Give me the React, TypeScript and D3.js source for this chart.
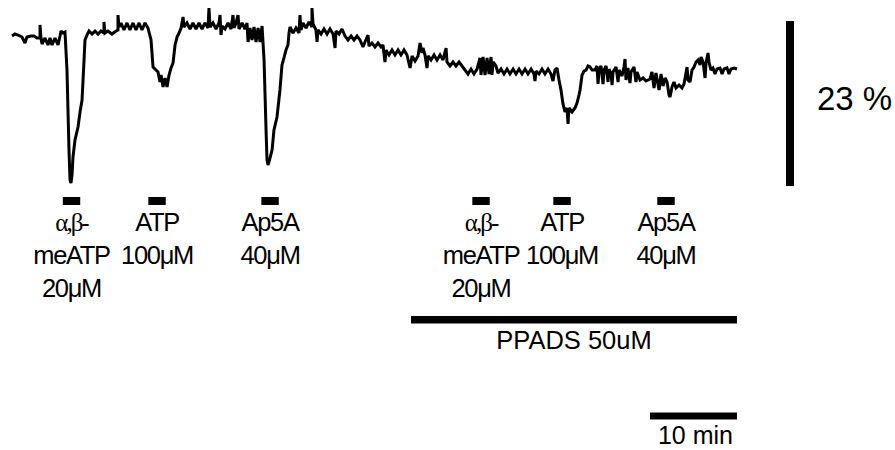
import React from "react";
import * as d3 from "d3";

// Recorded trace: time (min) and response (% change)
const traceMin = [
  0, 0.34, 0.69, 1.15, 1.49, 1.72, 2.18, 2.53, 2.87, 3.22, 3.22, 3.33, 3.45, 3.79, 4.14, 4.37, 4.6, 4.94, 5.29, 5.52, 5.63, 5.86, 6.09,
  6.32, 6.55, 6.67, 6.78, 6.9, 7.01, 7.24, 7.59, 7.82, 8.05, 8.28, 8.39, 8.62, 8.85, 9.2, 9.54, 9.89, 10.23, 10.57, 10.57, 10.69,
  11.03, 11.49, 11.95, 12.18, 12.18, 12.3, 12.53, 12.87, 13.22, 13.56, 13.91, 14.25, 14.6, 14.94, 15.29, 15.63,
  15.98, 16.21, 16.55, 16.78, 17.01, 17.13, 17.36, 17.59, 17.82, 18.05, 18.28, 18.51, 18.74, 18.97, 19.2, 19.43, 19.66, 19.77,
  20.11, 20.46, 20.8, 21.15, 21.49, 21.84, 22.18, 22.53, 22.64, 22.76, 23.1, 23.45, 23.79, 23.91, 24.02, 24.14, 24.48, 24.83,
  25.17, 25.4, 25.52, 25.75, 25.98, 26.09, 26.44, 26.78, 27.01, 27.13, 27.36, 27.59, 27.82, 28.05, 28.28, 28.51, 28.74,
  28.97, 29.2, 29.31, 29.43, 29.66, 29.89, 30.11, 30.46, 30.8, 31.03, 31.26, 31.49, 31.72, 31.84, 31.95, 32.3, 32.64, 32.99,
  33.1, 33.22, 33.45, 33.79, 34.14, 34.48, 34.48, 34.6, 34.94, 35.06, 35.17, 35.52, 35.86, 36.21, 36.55, 36.9, 37.13, 37.24,
  37.59, 37.93, 38.28, 38.62, 38.97, 39.31, 39.66, 40.0, 40.34, 40.57, 40.92, 41.03, 41.38, 41.72, 42.07, 42.41, 42.64, 42.87,
  42.99, 43.33, 43.68, 44.02, 44.37, 44.71, 45.06, 45.4, 45.75, 45.98, 46.32, 46.67, 46.9, 47.13, 47.24, 47.47, 47.7, 47.82,
  48.16, 48.51, 48.85, 49.2, 49.54, 49.89, 50.0, 50.34, 50.69, 51.03, 51.38, 51.72, 52.07, 52.41, 52.76, 53.1, 53.45, 53.79,
  53.91, 54.14, 54.37, 54.6, 54.83, 55.06, 55.17, 55.29, 55.63, 55.86, 56.21, 56.55, 56.9, 57.24, 57.59, 57.93, 58.28, 58.62,
  58.97, 59.31, 59.66, 60.0, 60.11, 60.23, 60.57, 60.92, 61.26, 61.61, 61.95, 62.18, 62.41, 62.64,
  62.87, 63.1, 63.33, 63.56, 63.79, 63.91, 64.02, 64.37, 64.71, 64.94, 65.17, 65.29, 65.52, 65.75, 65.98, 66.21, 66.44, 66.67,
  67.01, 67.24, 67.36, 67.47, 67.7, 67.93, 68.05, 68.28, 68.51, 68.62, 68.85, 68.97, 69.08, 69.43, 69.66, 69.77, 70.11, 70.34,
  70.46, 70.57, 70.8, 71.03, 71.15, 71.49, 71.72, 71.84, 72.18, 72.53, 72.87, 73.33, 73.56, 73.79, 74.02, 74.37, 74.6, 74.83,
  75.06, 75.29, 75.52, 75.63, 75.86, 76.09, 76.32, 76.67, 77.01, 77.24, 77.59, 77.7, 77.93, 78.16, 78.39, 78.62, 78.85, 79.08,
  79.2, 79.43, 79.66, 79.77, 80.0, 80.11, 80.34, 80.57, 80.8, 81.03, 81.38, 81.61, 81.84, 82.18, 82.41, 82.64, 82.99, 83.33,
];

const tracePct = [
  -0.84, -0.56, -0.7, -0.98, -1.81, -0.98, -0.84, -0.84, -1.12, -1.12, 0.7, -1.12, -1.95, -1.12, -2.09, -1.12, -2.09, -1.12, -2.09, -0.84, -0.14, -0.42, -0.28,
  -5.58, -16.73, -20.91, -21.33, -20.21, -17.7, -15.33, -13.52, -11.43, -9.76, -4.18, -1.39, -0.7, -0.14, -0.56, -0.14, -0.56, -0.14, -0.42, 1.12, -0.42,
  -0.14, -0.56, -0.14, 0, 2.09, 0.42, 0.98, 0, 0.98, 0, 0.98, 0, 0.98, 0, 0.98, 0.28,
  -1.39, -5.16, -5.58, -5.85, -7.25, -6.27, -7.95, -6.69, -7.95, -6.27, -5.3, -4.6, -2.09, -0.98, -0.42, 0.28, 1.81, 0.42,
  0.98, 0.14, 0.98, 0.14, 0.98, 0.14, 0.98, 0.28, 3.07, 0.42, 0.98, 0.14, 0.98, 2.09, -0.7, 0.56, 0.14, 0.98,
  0.14, 2.09, 0.28, 0.98, 2.09, 0.14, 0.98, 0.14, 0.98, -1.67, 0.28, -1.39, 0.42, -1.67, 0.28, -1.67, 0.56,
  -4.18, -13.94, -18.12, -18.82, -17.84, -16.73, -13.94, -12.13, -8.36, -4.88, -3.9, -2.79, -2.09, -0.42, 0.42, -0.42, 0.28, -0.42,
  2.09, 0, 0.98, 0.28, 1.12, 0.42, 3.07, 0.84, 0, -1.67, 0, -0.56, 0.14, -0.56, 0.14, -0.56, -2.51, -0.14,
  -0.56, 0.14, -0.84, -1.39, -0.84, -1.39, -0.84, -1.39, -2.37, -1.67, -0.7, -2.23, -1.81, -2.37, -1.81, -2.37, -2.09, -4.46,
  -2.79, -3.48, -2.79, -3.48, -2.79, -3.48, -2.79, -3.48, -5.3, -3.62, -4.32, -3.62, -1.81, -3.21, -2.51, -3.48, -5.3, -3.62,
  -4.18, -3.48, -4.18, -3.48, -4.18, -2.51, -4.46, -5.02, -4.46, -5.02, -4.46, -5.02, -5.58, -6.13, -5.44, -6.13, -5.44, -3.9,
  -6.27, -3.76, -6.27, -3.9, -6.13, -3.76, -6.27, -4.46, -5.02, -5.99, -5.44, -6.13, -5.44, -6.13, -5.44, -6.13, -5.44, -6.13,
  -5.44, -6.13, -5.44, -6.13, -7.11, -5.72, -6.13, -5.44, -6.13, -5.44, -6.13, -7.11, -5.58, -5.3,
  -6.97, -8.36, -10.31, -11.43, -10.87, -13.1, -10.87, -11.43, -10.87, -10.18, -9.06, -8.36, -6.27, -5.72, -5.58, -5.02, -5.16, -5.58,
  -5.58, -5.02, -7.53, -5.58, -5.02, -7.53, -5.58, -5.02, -7.25, -5.44, -6.13, -7.67, -5.85, -5.16, -7.25, -5.58, -6.41, -5.16,
  -4.04, -6.97, -5.3, -7.39, -5.85, -5.16, -7.25, -5.85, -6.97, -6.69, -7.11, -6.83, -5.85, -8.08, -5.99, -8.36, -6.13, -7.81,
  -6.69, -7.25, -9.06, -9.34, -7.95, -7.25, -8.08, -7.67, -8.08, -7.53, -5.16, -6.97, -7.25, -5.58, -5.16, -4.46, -4.18, -4.88,
  -3.76, -4.46, -6.69, -4.6, -3.21, -4.46, -5.58, -5.3, -6.13, -5.44, -5.3, -6.13, -5.44, -5.3, -6.13, -5.44, -5.3, -5.44,
];

// Agonist applications: start time (min), 2-min pulses, with labels
const applicationStart = [5.84, 15.67, 28.66, 52.91, 62.22, 74.17];
const applicationDuration = 2;
const applicationLabels = [
  ["α,β-", "meATP", "20μM"],
  ["ATP", "100μM"],
  ["Ap5A", "40μM"],
  ["α,β-", "meATP", "20μM"],
  ["ATP", "100μM"],
  ["Ap5A", "40μM"],
];

// Antagonist perfusion period
const antagonistStart = 45.86;
const antagonistEnd = 83.33;
const antagonistLabel = "PPADS 50uM";

// Calibration bars
const timeBarStart = 73.33;
const timeBarLength = 10;
const timeBarLabel = "10 min";
const ampBarTop = 1.25;
const ampBarLength = 23;
const ampBarLabel = "23 %";

const W = 895;
const H = 450;
const sans = "'Liberation Sans', Arial, Helvetica, sans-serif";
const serif = "'Liberation Serif', 'Times New Roman', serif";

export default function App() {
  const x = d3.scaleLinear().domain([0, 83.33]).range([12, 737]);
  const y = d3.scaleLinear().domain([0, -23]).range([30, 195]);

  const points: [number, number][] = traceMin.map((t, i) => [t, tracePct[i]]);
  const line = d3
    .line<[number, number]>()
    .x((d) => x(d[0]))
    .y((d) => y(d[1]));

  const rowBaselines = [231, 264, 297];
  const ampX = 786;

  return (
    <svg
      width={W}
      height={H}
      style={{ position: "absolute", left: 0, top: 0, background: "#fff" }}
    >
      <rect width={W} height={H} fill="#fff" />
      <path
        d={line(points) || ""}
        fill="none"
        stroke="#000"
        strokeWidth={3}
        strokeLinejoin="miter"
        strokeMiterlimit={2}
      />

      {applicationStart.map((s, i) => {
        const x0 = x(s);
        const x1 = x(s + applicationDuration);
        const cx = (x0 + x1) / 2;
        return (
          <g key={i}>
            <rect x={x0} y={197} width={x1 - x0} height={8} fill="#000" />
            {applicationLabels[i].map((txt, j) => {
              const greek = txt.startsWith("α");
              return (
                <text
                  key={j}
                  x={cx}
                  y={rowBaselines[j]}
                  textAnchor="middle"
                  fontFamily={greek ? serif : sans}
                  fontSize={greek ? 25 : 25.5}
                  letterSpacing={greek ? -2 : -1.3}
                  fill="#000"
                >
                  {txt}
                </text>
              );
            })}
          </g>
        );
      })}

      <rect
        x={x(antagonistStart)}
        y={316}
        width={x(antagonistEnd) - x(antagonistStart)}
        height={7.5}
        fill="#000"
      />
      <text
        x={(x(antagonistStart) + x(antagonistEnd)) / 2}
        y={349}
        textAnchor="middle"
        fontFamily={sans}
        fontSize={25.5}
        fill="#000"
      >
        {antagonistLabel}
      </text>

      <rect
        x={x(timeBarStart)}
        y={412.5}
        width={x(timeBarStart + timeBarLength) - x(timeBarStart)}
        height={7}
        fill="#000"
      />
      <text
        x={(x(timeBarStart) + x(timeBarStart + timeBarLength)) / 2 + 2}
        y={444}
        textAnchor="middle"
        fontFamily={sans}
        fontSize={25}
        fill="#000"
      >
        {timeBarLabel}
      </text>

      <rect
        x={ampX}
        y={y(ampBarTop)}
        width={8}
        height={y(ampBarTop - ampBarLength) - y(ampBarTop)}
        fill="#000"
      />
      <text x={817} y={110} fontFamily={sans} fontSize={33} fill="#000">
        {ampBarLabel}
      </text>
    </svg>
  );
}
